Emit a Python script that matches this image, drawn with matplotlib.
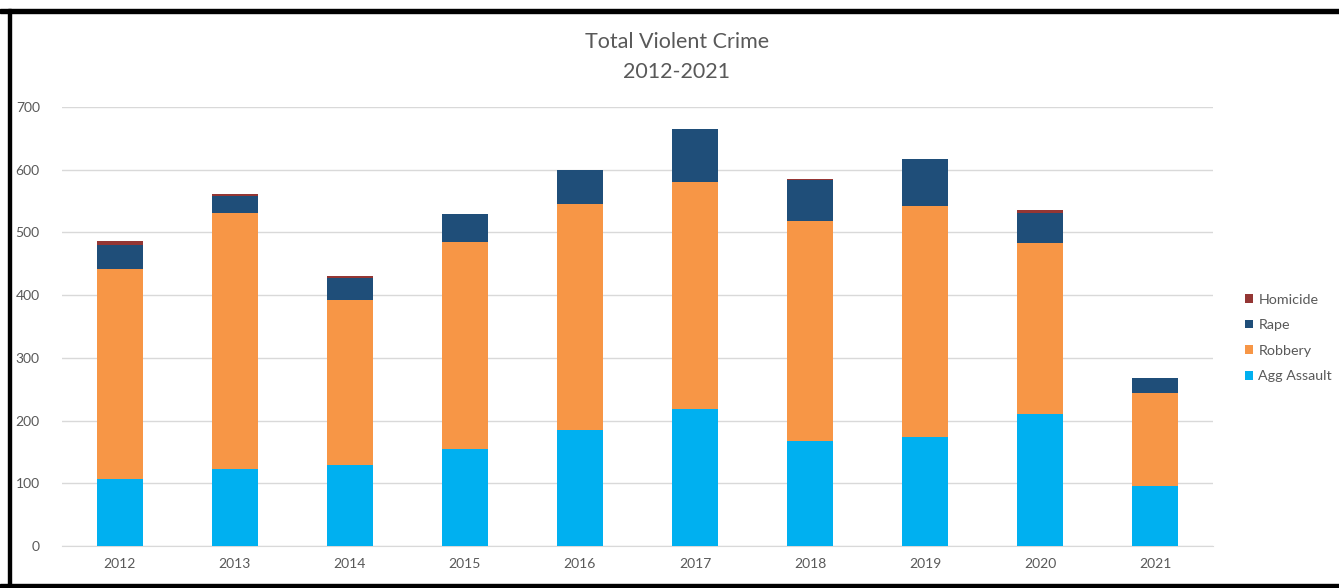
import numpy as np
import matplotlib.pyplot as plt
from matplotlib.patches import Rectangle

years = ['2012', '2013', '2014', '2015', '2016', '2017', '2018', '2019', '2020', '2021']
agg_assault = [107, 123, 129, 155, 185, 218, 167, 174, 210, 96]
robbery = [335, 408, 263, 330, 360, 363, 351, 368, 273, 148]
rape = [38, 27, 35, 45, 55, 84, 65, 75, 48, 24]
homicide = [6, 3, 3, 0, 0, 0, 1.5, 0, 5, 0]

colors = {'Agg Assault': '#00B0F0', 'Robbery': '#F79646',
          'Rape': '#1F4E79', 'Homicide': '#943634'}

plt.rcParams['font.family'] = ['Lato', 'DejaVu Sans']

fig = plt.figure(figsize=(13.39, 5.88), dpi=100)
ax = fig.add_axes([62 / 1339, 1 - 546 / 588, (1213 - 62) / 1339, (546 - 107) / 588])

x = np.arange(len(years))
w = 0.4
bottom = np.zeros(len(years))
bars = {}
for name, vals in [('Agg Assault', agg_assault), ('Robbery', robbery),
                   ('Rape', rape), ('Homicide', homicide)]:
    bars[name] = ax.bar(x, vals, w, bottom=bottom, color=colors[name], label=name, zorder=3)
    bottom += np.array(vals)

ax.set_xlim(-0.5, 9.5)
ax.set_ylim(0, 700)
ax.set_yticks(range(0, 701, 100))
ax.set_xticks(x)
ax.set_xticklabels(years)
ax.grid(axis='y', color='#D9D9D9', linewidth=1, zorder=0)
for s in ['top', 'right', 'left']:
    ax.spines[s].set_visible(False)
ax.spines['bottom'].set_color('#D9D9D9')
ax.tick_params(axis='both', length=0, labelsize=10, colors='#595959')
ax.tick_params(axis='y', pad=16)
ax.tick_params(axis='x', pad=9)

handles = [bars[n] for n in ['Homicide', 'Rape', 'Robbery', 'Agg Assault']]
leg = fig.legend(handles, [h.get_label() for h in handles], loc='center left',
                 bbox_to_anchor=(1232 / 1339, 1 - 338 / 588), frameon=False,
                 fontsize=10.3, handlelength=0.55, handleheight=0.55,
                 handletextpad=0.4, labelspacing=0.95, labelcolor='#595959')

fig.text(677 / 1339, 1 - 42 / 588, 'Total Violent Crime', ha='center', va='center',
         fontsize=15.5, color='#595959')
fig.text(677 / 1339, 1 - 72 / 588, '2012-2021', ha='center', va='center',
         fontsize=15.5, color='#595959')

# black frame around the chart (right side is cut off in the original)
fig.patches.append(Rectangle((0, 1 - 13 / 588), 1, 4 / 588, transform=fig.transFigure,
                             color='black', zorder=10))
fig.patches.append(Rectangle((8 / 1339, 0), 3 / 1339, 1 - 9 / 588, transform=fig.transFigure,
                             color='black', zorder=10))
fig.patches.append(Rectangle((0, 0), 1, 4 / 588, transform=fig.transFigure,
                             color='black', zorder=10))

fig.savefig('out.png', dpi=100)
